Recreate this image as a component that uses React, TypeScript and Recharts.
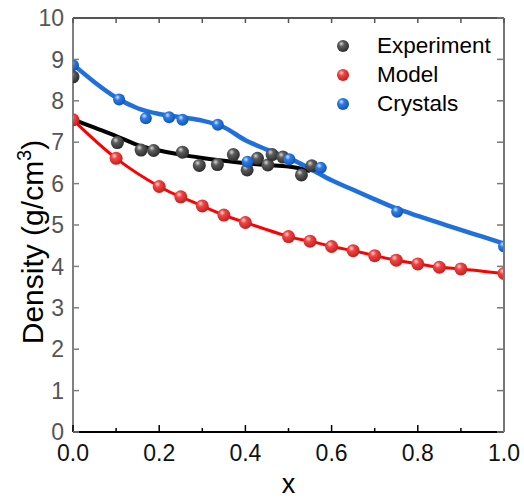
import React from 'react';
import { ComposedChart, Line, Scatter, XAxis, YAxis, Label } from 'recharts';

// measured experimental densities
const experimentX = [0, 0.103, 0.158, 0.187, 0.254, 0.293, 0.335, 0.372, 0.404, 0.428, 0.452, 0.462, 0.487, 0.53, 0.554];
const experimentY = [8.58, 6.99, 6.81, 6.8, 6.76, 6.44, 6.46, 6.7, 6.33, 6.61, 6.45, 6.7, 6.64, 6.21, 6.43];

// smoothed trend through the experimental points
const experimentFitX = [0, 0.05, 0.1, 0.15, 0.2, 0.25, 0.3, 0.35, 0.4, 0.45, 0.5, 0.53, 0.55];
const experimentFitY = [7.55, 7.35, 7.15, 6.93, 6.8, 6.7, 6.62, 6.55, 6.49, 6.45, 6.41, 6.36, 6.3];

// model predictions
const modelX = [0, 0.1, 0.2, 0.25, 0.3, 0.35, 0.4, 0.5, 0.55, 0.6, 0.65, 0.7, 0.75, 0.8, 0.85, 0.9, 1.0];
const modelY = [7.54, 6.61, 5.93, 5.68, 5.46, 5.24, 5.06, 4.72, 4.61, 4.48, 4.38, 4.26, 4.15, 4.06, 3.98, 3.94, 3.83];

// crystal structures
const crystalX = [0, 0.107, 0.169, 0.223, 0.254, 0.336, 0.405, 0.502, 0.575, 0.752, 1.0];
const crystalY = [8.86, 8.03, 7.58, 7.6, 7.54, 7.42, 6.53, 6.59, 6.38, 5.32, 4.48];

// smoothed trend through the crystal points
const crystalFitX = [0, 0.05, 0.1, 0.15, 0.2, 0.25, 0.3, 0.35, 0.4, 0.45, 0.5, 0.55, 0.6, 0.65, 0.7, 0.75, 0.8, 0.85, 0.9, 0.95, 1.0];
const crystalFitY = [8.88, 8.45, 8.08, 7.82, 7.68, 7.6, 7.52, 7.36, 7.05, 6.82, 6.62, 6.36, 6.08, 5.85, 5.62, 5.4, 5.22, 5.05, 4.88, 4.72, 4.55];

const xMajorTicks = [0, 0.2, 0.4, 0.6, 0.8, 1.0];
const xAllTicks = [0, 0.1, 0.2, 0.3, 0.4, 0.5, 0.6, 0.7, 0.8, 0.9, 1.0];
const yTicks = [0, 1, 2, 3, 4, 5, 6, 7, 8, 9, 10];
const X_MAX = 1;
const Y_MAX = 10;

const legendItems = [
  { name: 'Experiment', grad: 'sphereGrey' },
  { name: 'Model', grad: 'sphereRed' },
  { name: 'Crystals', grad: 'sphereBlue' },
];

const FONT = '"Liberation Sans", Arial, sans-serif';

// chart layout
const CHART_W = 524;
const CHART_H = 498;
const MARGIN = { top: 18, right: 20, bottom: 0, left: 0 };
const Y_AXIS_W = 73;
const X_AXIS_H = 66;
const PLOT = {
  left: MARGIN.left + Y_AXIS_W,
  right: CHART_W - MARGIN.right,
  top: MARGIN.top,
  bottom: CHART_H - MARGIN.bottom - X_AXIS_H,
};

const toPoints = (xs: number[], ys: number[]) => xs.map((x, i) => ({ x, y: ys[i] }));

const isMajor = (v: number) => xMajorTicks.some((t) => Math.abs(t - v) < 1e-6);

function BottomTick({ x, y, payload }: any) {
  const major = isMajor(payload.value);
  return (
    <g>
      <line x1={x} x2={x} y1={y} y2={y - (major ? 7 : 4)} stroke="#000" strokeWidth={1.5} />
      {major && (
        <text x={x} y={y + 29} textAnchor="middle" fontSize={23} fontFamily={FONT} fill="#111">
          {payload.value.toFixed(1)}
        </text>
      )}
    </g>
  );
}

function LeftTick({ x, y, payload }: any) {
  return (
    <g>
      <line x1={x} x2={x + 6} y1={y} y2={y} stroke="#808080" strokeWidth={1.5} />
      <text x={x - 9} y={y} dy="0.36em" textAnchor="end" fontSize={23} fontFamily={FONT} fill="#555">
        {payload.value}
      </text>
    </g>
  );
}

const yTitle = ({ viewBox }: any) => {
  const cx = viewBox.x + 43;
  const cy = viewBox.y + viewBox.height / 2 + 17;
  return (
    <text x={cx} y={cy} transform={`rotate(-90 ${cx} ${cy})`} textAnchor="middle" fontSize={30} fontFamily={FONT} fill="#000">
      Density (g/cm
      <tspan dy={-12} fontSize={20}>3</tspan>
      <tspan dy={12}>)</tspan>
    </text>
  );
};

const xTitle = ({ viewBox }: any) => (
  <text x={viewBox.x + viewBox.width / 2} y={viewBox.y + 61} textAnchor="middle" fontSize={27} fontFamily={FONT} fill="#000">
    x
  </text>
);

const sphere = (grad: string, r: number) => (p: any) => <circle cx={p.cx} cy={p.cy} r={r} fill={`url(#${grad})`} />;

function SphereGradient({ id, light, mid, dark }: { id: string; light: string; mid: string; dark: string }) {
  return (
    <radialGradient id={id} cx="0.4" cy="0.38" r="0.65" fx="0.36" fy="0.3">
      <stop offset="0%" stopColor={light} />
      <stop offset="35%" stopColor={mid} />
      <stop offset="100%" stopColor={dark} />
    </radialGradient>
  );
}

// top and right edges of the box around the plot, with inward ticks
function FrameEdges() {
  const w = PLOT.right - PLOT.left;
  const h = PLOT.bottom - PLOT.top;
  return (
    <svg
      width={CHART_W}
      height={CHART_H}
      style={{ position: 'absolute', left: 0, top: 0, pointerEvents: 'none' }}
    >
      <line x1={PLOT.left} x2={PLOT.right} y1={PLOT.top} y2={PLOT.top} stroke="#555" strokeWidth={2} />
      <line x1={PLOT.right} x2={PLOT.right} y1={PLOT.top} y2={PLOT.bottom} stroke="#777" strokeWidth={2} />
      {xAllTicks.map((t) => {
        const tx = PLOT.left + (w * t) / X_MAX;
        return <line key={`t${t}`} x1={tx} x2={tx} y1={PLOT.top} y2={PLOT.top + 5} stroke="#555" strokeWidth={1.5} />;
      })}
      {yTicks.map((t) => {
        const ty = PLOT.bottom - (h * t) / Y_MAX;
        return <line key={`r${t}`} x1={PLOT.right} x2={PLOT.right - 7} y1={ty} y2={ty} stroke="#777" strokeWidth={1.5} />;
      })}
    </svg>
  );
}

export default function App() {
  return (
    <div style={{ position: 'relative', width: CHART_W, height: CHART_H, background: '#fff', fontFamily: FONT }}>
      <style>{'body{margin:0}'}</style>
      <svg width={0} height={0} style={{ position: 'absolute' }}>
        <defs>
          <SphereGradient id="sphereGrey" light="#d8d8d8" mid="#5c5c5c" dark="#2a2a2a" />
          <SphereGradient id="sphereRed" light="#ffd6d6" mid="#f04545" dark="#c41c1c" />
          <SphereGradient id="sphereBlue" light="#d4e6ff" mid="#2c7ce6" dark="#1152b4" />
        </defs>
      </svg>
      <ComposedChart width={CHART_W} height={CHART_H} margin={MARGIN}>
        <XAxis
          dataKey="x"
          type="number"
          domain={[0, X_MAX]}
          ticks={xAllTicks}
          interval={0}
          allowDataOverflow
          height={X_AXIS_H}
          tickSize={0}
          tickMargin={0}
          tickLine={false}
          tick={<BottomTick />}
          axisLine={{ stroke: '#000', strokeWidth: 2 }}
        >
          <Label content={xTitle} />
        </XAxis>
        <YAxis
          type="number"
          domain={[0, Y_MAX]}
          ticks={yTicks}
          interval={0}
          allowDataOverflow
          width={Y_AXIS_W}
          tickSize={0}
          tickMargin={0}
          tickLine={false}
          tick={<LeftTick />}
          axisLine={{ stroke: '#808080', strokeWidth: 2 }}
        >
          <Label content={yTitle} />
        </YAxis>

        <Scatter
          data={toPoints(experimentX, experimentY)}
          dataKey="y"
          shape={sphere('sphereGrey', 6.5)}
          isAnimationActive={false}
        />
        <Line
          data={toPoints(experimentFitX, experimentFitY)}
          dataKey="y"
          type="monotone"
          stroke="#000"
          strokeWidth={4}
          dot={false}
          activeDot={false}
          isAnimationActive={false}
        />
        <Line
          data={toPoints(modelX, modelY)}
          dataKey="y"
          type="natural"
          stroke="#ff0000"
          strokeWidth={3}
          dot={false}
          activeDot={false}
          isAnimationActive={false}
        />
        <Scatter
          data={toPoints(modelX, modelY)}
          dataKey="y"
          shape={sphere('sphereRed', 6.5)}
          isAnimationActive={false}
        />
        <Line
          data={toPoints(crystalFitX, crystalFitY)}
          dataKey="y"
          type="monotone"
          stroke="#1f6fdc"
          strokeWidth={4.5}
          dot={false}
          activeDot={false}
          isAnimationActive={false}
        />
        <Scatter
          data={toPoints(crystalX, crystalY)}
          dataKey="y"
          shape={sphere('sphereBlue', 6)}
          isAnimationActive={false}
        />
      </ComposedChart>

      <FrameEdges />

      <div style={{ position: 'absolute', left: 336, top: 31 }}>
        {legendItems.map((item) => (
          <div key={item.name} style={{ display: 'flex', alignItems: 'center', height: 29 }}>
            <svg width={14} height={14} style={{ display: 'block' }}>
              <circle cx={7} cy={7} r={6} fill={`url(#${item.grad})`} />
            </svg>
            <span style={{ marginLeft: 27, fontSize: 22.5, color: '#000', lineHeight: '29px' }}>{item.name}</span>
          </div>
        ))}
      </div>
    </div>
  );
}
